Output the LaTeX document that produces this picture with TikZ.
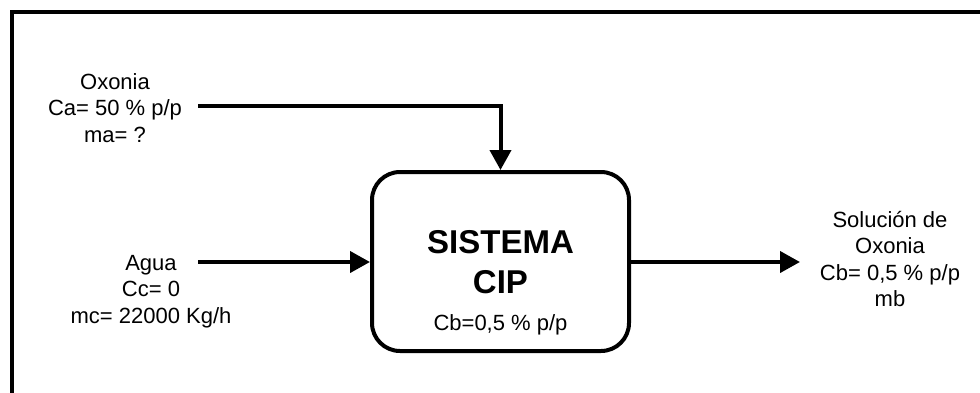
\documentclass[tikz,border=0pt]{standalone}
\usepackage{fontspec}
\setmainfont{Liberation Sans}
\usetikzlibrary{arrows.meta}
\begin{document}
\begin{tikzpicture}[x=1pt,y=-1pt,
  lbl/.style={align=center,inner sep=0pt,font=\fontsize{22}{26.5}\selectfont},
  flow/.style={line width=4pt,-{Triangle[length=20pt,width=21pt]}},
  sysbox/.style={draw,line width=4pt,rounded corners=28pt,minimum width=257pt,minimum height=179pt,inner sep=0pt}]
\useasboundingbox (0,0) rectangle (980,392);
\clip (0,0) rectangle (980,392);
\fill[white] (0,0) rectangle (980,392);
\draw[line width=4.5pt] (12,420) -- (12,12) -- (1000,12);
\node[sysbox] (sys) at (500.5,261.5) {};
\node[lbl,anchor=north,font=\bfseries\fontsize{33}{40}\selectfont] (title) at (500.5,230) {SISTEMA\\CIP};
\node[lbl,anchor=base] (cbin) at (500.5,330) {Cb=0,5 \% p/p};
\node[lbl,anchor=north] (oxo) at (115,73) {Oxonia\\Ca= 50 \% p/p\\ma= ?};
\node[lbl,anchor=north] (agua) at (151,255) {Agua\\Cc= 0\\mc= 22000 Kg/h};
\node[lbl,anchor=north] (sol) at (890,211) {Solución de\\Oxonia\\Cb= 0,5 \% p/p\\mb};
\coordinate (oxs) at (198,106);
\coordinate (ags) at (198,262);
\coordinate (oute) at (800,262);
\draw[flow] (oxs) -| (sys.north);
\draw[flow] (ags) -- (ags -| sys.west);
\draw[flow] (sys.east |- oute) -- (oute);
\end{tikzpicture}
\end{document}
